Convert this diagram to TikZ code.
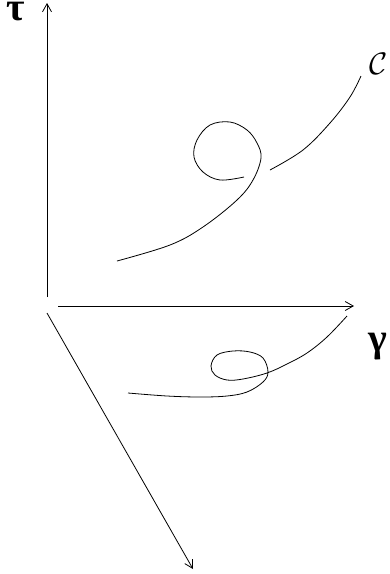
\documentclass[tikz,border=0pt]{standalone}
\usepackage{amsmath,amssymb}
\usepackage{fontspec}
\newfontfamily\grkfont{Liberation Serif}
\usetikzlibrary{arrows.meta}
\begin{document}
\begin{tikzpicture}[x=1pt,y=-1pt,
  axis/.style={line width=0.8pt,-{Straight Barb[length=8pt,width=9pt,line width=0.8pt]}},
  crv/.style={line width=0.8pt},
  lbl/.style={inner sep=0pt},
  grk/.style={lbl,anchor=base,font=\grkfont\bfseries\fontsize{40}{42}\selectfont}]
\useasboundingbox (0,0) rectangle (389,574);
\coordinate (o1) at (47,297);
\coordinate (t1) at (47,3);
\coordinate (o2) at (58,306);
\coordinate (g1) at (354,306);
\coordinate (o3) at (47,313);
\coordinate (z1) at (193,569);
\draw[axis] (o1) -- (t1);
\draw[axis] (o2) -- (g1);
\draw[axis] (o3) -- (z1);
\draw[crv] plot[smooth,tension=0.6] coordinates {(117,261) (170,245) (203,227) (237,200) (253,180) (261,158) (257,143) (247,130) (230,122) (210,125) (197,140) (194,157) (203,172) (220,180) (244,177)};
\draw[crv] plot[smooth,tension=0.6] coordinates {(270,170) (303,150) (330,123) (350,97) (361,76)};
\draw[crv] plot[smooth,tension=0.6] coordinates {(128,393) (167,396) (200,397) (227,396) (247,392) (263,382) (268,372) (263,358) (250,352) (233,351) (217,355) (211,366) (215,375) (227,380) (243,379) (267,373) (287,364) (307,353) (327,337) (347,316)};
\node[grk,text height=15pt,text depth=0pt] (tau) at (16,20) {τ};
\node[grk] (gam) at (378,351) {γ};
\node[lbl] (cc) at (379,64) {\scalebox{1.5}{\fontsize{20}{22}\selectfont$\mathcal{C}$}};
\end{tikzpicture}
\end{document}
